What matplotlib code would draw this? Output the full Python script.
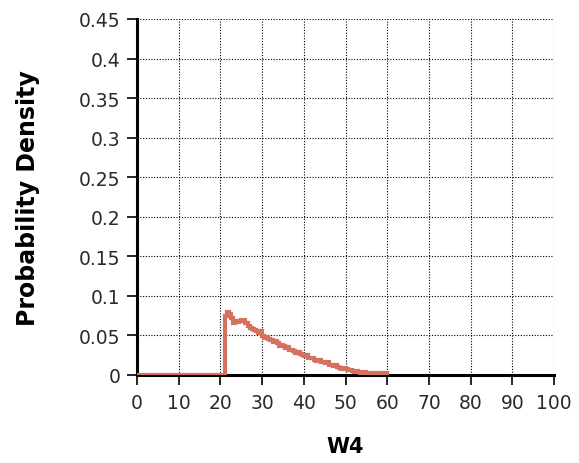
import matplotlib
matplotlib.use("Agg")
import matplotlib.pyplot as plt
import numpy as np

plt.rcParams['font.family'] = ['DejaVu Sans']

# bin edges (W4) and densities
bin_left = [0, 21, 21.5, 22, 22.5, 23, 23.5, 24, 24.5, 25, 25.5, 26, 26.5, 27, 27.5,
            28, 28.5, 29, 29.5, 30, 30.5, 31, 31.5, 32, 32.5, 33, 33.5, 34, 34.5,
            35, 35.5, 36, 36.5, 37, 37.5, 38, 38.5, 39, 39.5, 40, 40.5, 41, 41.5,
            42, 42.5, 43, 43.5, 44, 44.5, 45, 45.5, 46, 46.5, 47, 47.5, 48, 48.5,
            49, 49.5, 50, 50.5, 51, 51.5, 52, 52.5, 53, 53.5, 54, 54.5, 55, 55.5,
            56, 56.5, 57, 57.5, 58, 58.5, 59, 59.5]
density = [0.0, 0.074, 0.080, 0.077, 0.072, 0.066, 0.068, 0.067, 0.068, 0.069, 0.070,
           0.066, 0.062, 0.060, 0.058, 0.057, 0.055, 0.053, 0.055, 0.049, 0.047,
           0.048, 0.045, 0.044, 0.042, 0.043, 0.040, 0.037, 0.038, 0.036, 0.034,
           0.035, 0.032, 0.031, 0.030, 0.028, 0.029, 0.027, 0.025, 0.024, 0.025,
           0.022, 0.021, 0.022, 0.019, 0.018, 0.019, 0.017, 0.016, 0.015, 0.016,
           0.013, 0.012, 0.011, 0.012, 0.010, 0.009, 0.008, 0.009, 0.007, 0.006,
           0.006, 0.005, 0.004, 0.005, 0.004, 0.003, 0.003, 0.004, 0.002, 0.003,
           0.002, 0.001, 0.002, 0.001, 0.002, 0.001, 0.001, 0.002]
x_end = 60.0

xticks = [0, 10, 20, 30, 40, 50, 60, 70, 80, 90, 100]
yticks = [0, 0.05, 0.1, 0.15, 0.2, 0.25, 0.3, 0.35, 0.4, 0.45]
ytick_labels = ['0', '0.05', '0.1', '0.15', '0.2', '0.25', '0.3', '0.35', '0.4', '0.45']

fig = plt.figure(figsize=(5.79, 4.64), dpi=100)
ax = fig.add_axes([0.2366, 0.1897, 0.7204, 0.7673])

xs = list(bin_left) + [x_end]
ys = list(density) + [density[-1]]
ax.step(xs, ys, where='post', color='#d6705f', lw=3, zorder=3, solid_joinstyle='miter')

ax.set_xlim(0, 100)
ax.set_ylim(0, 0.45)
ax.set_xticks(xticks)
ax.set_xticklabels([str(t) for t in xticks], fontsize=13.5)
ax.set_yticks(yticks)
ax.set_yticklabels(ytick_labels, fontsize=13.5)
ax.grid(True, color='black', linestyle=(0, (1, 1.5)), lw=0.8)
ax.set_axisbelow(True)
for s in ['top', 'right']:
    ax.spines[s].set_visible(False)
ax.spines['left'].set_linewidth(2.2)
ax.spines['bottom'].set_linewidth(2.2)
ax.spines['bottom'].set_zorder(2)
ax.tick_params(direction='out', length=7, width=1.2, colors='black', labelcolor='#2a2a2a', pad=3)
ax.tick_params(axis='x', pad=6)
ax.tick_params(axis='y', pad=5)
ax.set_xlabel('W4', fontsize=15, fontweight='bold', labelpad=17)
ax.set_ylabel('Probability Density', fontsize=17, fontweight='bold', labelpad=28)

fig.savefig('out.png', dpi=100, facecolor='white')
